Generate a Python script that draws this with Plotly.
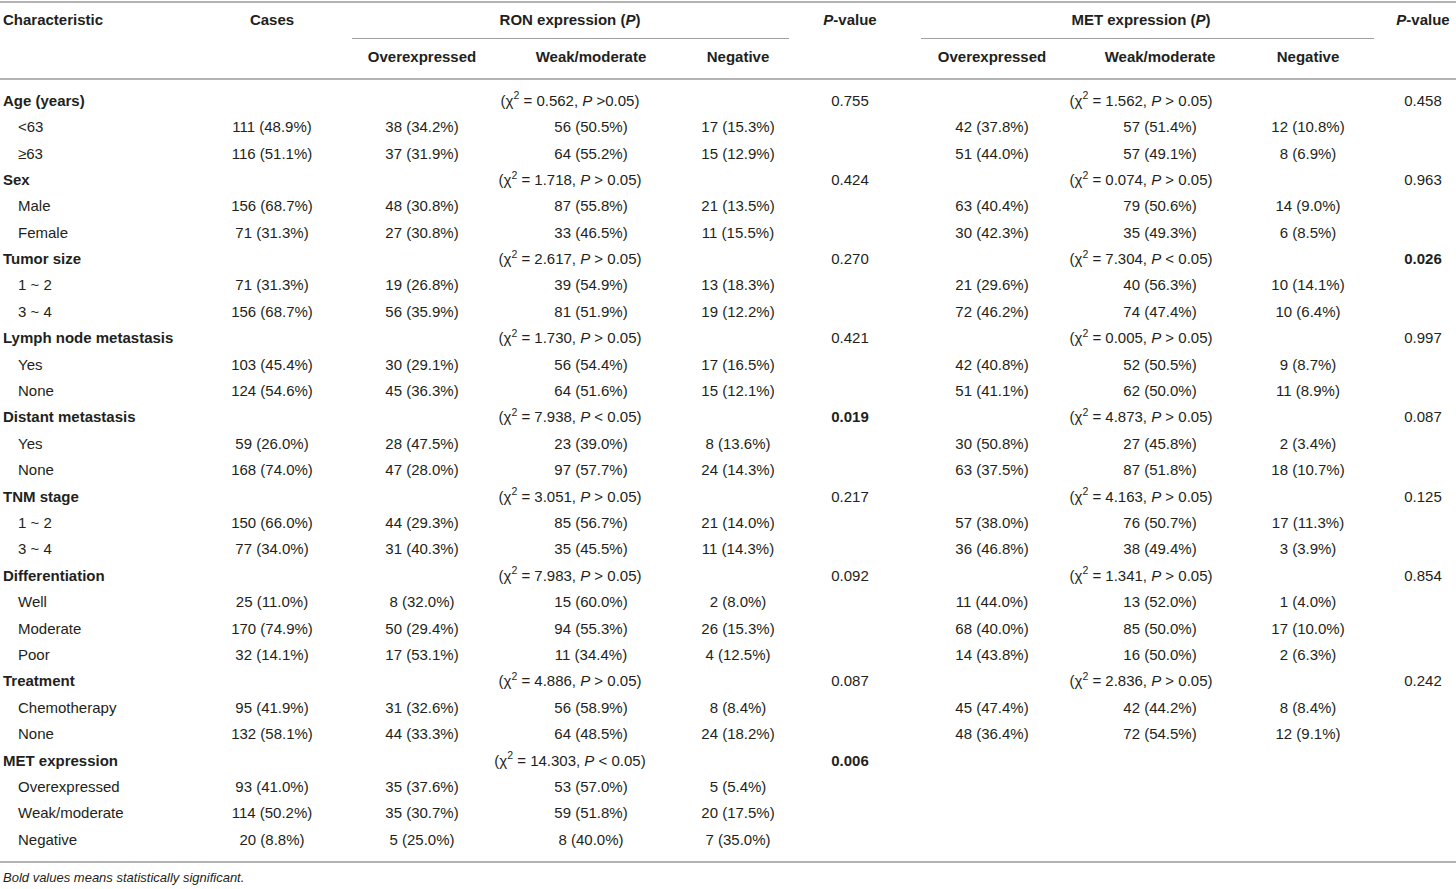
import plotly.graph_objects as go

# ---------------- data ----------------
groups = ["Age (years)", "Sex", "Tumor size", "Lymph node metastasis", "Distant metastasis",
          "TNM stage", "Differentiation", "Treatment", "MET expression"]
subgroups = [["<63", "≥63"], ["Male", "Female"], ["1 ~ 2", "3 ~ 4"], ["Yes", "None"], ["Yes", "None"],
             ["1 ~ 2", "3 ~ 4"], ["Well", "Moderate", "Poor"], ["Chemotherapy", "None"],
             ["Overexpressed", "Weak/moderate", "Negative"]]

ron_chi2 = [0.562, 1.718, 2.617, 1.730, 7.938, 3.051, 7.983, 4.886, 14.303]
ron_compare = [">0.05", "> 0.05", "> 0.05", "> 0.05", "< 0.05", "> 0.05", "> 0.05", "> 0.05", "< 0.05"]
ron_pvalue = [0.755, 0.424, 0.270, 0.421, 0.019, 0.217, 0.092, 0.087, 0.006]
met_chi2 = [1.562, 0.074, 7.304, 0.005, 4.873, 4.163, 1.341, 2.836, None]
met_compare = ["> 0.05", "> 0.05", "< 0.05", "> 0.05", "> 0.05", "> 0.05", "> 0.05", "> 0.05", None]
met_pvalue = [0.458, 0.963, 0.026, 0.997, 0.087, 0.125, 0.854, 0.242, None]

cases_n = [111, 116, 156, 71, 71, 156, 103, 124, 59, 168, 150, 77, 25, 170, 32, 95, 132, 93, 114, 20]
cases_pct = [48.9, 51.1, 68.7, 31.3, 31.3, 68.7, 45.4, 54.6, 26.0, 74.0, 66.0, 34.0, 11.0, 74.9, 14.1,
             41.9, 58.1, 41.0, 50.2, 8.8]
ron_over_n = [38, 37, 48, 27, 19, 56, 30, 45, 28, 47, 44, 31, 8, 50, 17, 31, 44, 35, 35, 5]
ron_over_pct = [34.2, 31.9, 30.8, 30.8, 26.8, 35.9, 29.1, 36.3, 47.5, 28.0, 29.3, 40.3, 32.0, 29.4, 53.1,
                32.6, 33.3, 37.6, 30.7, 25.0]
ron_weak_n = [56, 64, 87, 33, 39, 81, 56, 64, 23, 97, 85, 35, 15, 94, 11, 56, 64, 53, 59, 8]
ron_weak_pct = [50.5, 55.2, 55.8, 46.5, 54.9, 51.9, 54.4, 51.6, 39.0, 57.7, 56.7, 45.5, 60.0, 55.3, 34.4,
                58.9, 48.5, 57.0, 51.8, 40.0]
ron_neg_n = [17, 15, 21, 11, 13, 19, 17, 15, 8, 24, 21, 11, 2, 26, 4, 8, 24, 5, 20, 7]
ron_neg_pct = [15.3, 12.9, 13.5, 15.5, 18.3, 12.2, 16.5, 12.1, 13.6, 14.3, 14.0, 14.3, 8.0, 15.3, 12.5,
               8.4, 18.2, 5.4, 17.5, 35.0]
met_over_n = [42, 51, 63, 30, 21, 72, 42, 51, 30, 63, 57, 36, 11, 68, 14, 45, 48, None, None, None]
met_over_pct = [37.8, 44.0, 40.4, 42.3, 29.6, 46.2, 40.8, 41.1, 50.8, 37.5, 38.0, 46.8, 44.0, 40.0, 43.8,
                47.4, 36.4, None, None, None]
met_weak_n = [57, 57, 79, 35, 40, 74, 52, 62, 27, 87, 76, 38, 13, 85, 16, 42, 72, None, None, None]
met_weak_pct = [51.4, 49.1, 50.6, 49.3, 56.3, 47.4, 50.5, 50.0, 45.8, 51.8, 50.7, 49.4, 52.0, 50.0, 50.0,
                44.2, 54.5, None, None, None]
met_neg_n = [12, 8, 14, 6, 10, 10, 9, 11, 2, 18, 17, 3, 1, 17, 2, 8, 12, None, None, None]
met_neg_pct = [10.8, 6.9, 9.0, 8.5, 14.1, 6.4, 8.7, 8.9, 3.4, 10.7, 11.3, 3.9, 4.0, 10.0, 6.3,
               8.4, 9.1, None, None, None]

footnote = "Bold values means statistically significant."

# ---------------- layout constants ----------------
W, H = 1456, 889
ROW0, DY = 102, 26.39
HDR1, HDR2 = 21, 58
X_LEFT, X_INDENT = 3, 18
X_CASES = 272
X_RON = [422, 591, 738]
X_RON_MID, X_RON_P = 570, 850
X_MET = [992, 1160, 1308]
X_MET_MID, X_MET_P = 1141, 1423
FONT = "Liberation Sans, Arial, sans-serif"
FS = 15
COLOR = "#231f20"

# ---------------- build rows ----------------
def cell(n, p):
    return "" if n is None else f"{n} ({p:.1f}%)"

def chi(v, c):
    return "" if v is None else f"(χ<sup>2</sup> = {v:.3f}, <i>P</i> {c})"

def pv(v):
    if v is None:
        return ""
    s = f"{v:.3f}"
    return f"<b>{s}</b>" if v < 0.05 else s

row_label, row_is_group = [], []
col_cases, col_ron, col_met = [], [[], [], []], [[], [], []]
col_ron_chi, col_ron_p, col_met_chi, col_met_p = [], [], [], []
k = 0
for g, subs in enumerate(subgroups):
    row_label.append(f"<b>{groups[g]}</b>")
    row_is_group.append(True)
    col_cases.append("")
    for j in range(3):
        col_ron[j].append("")
        col_met[j].append("")
    col_ron_chi.append(chi(ron_chi2[g], ron_compare[g]))
    col_ron_p.append(pv(ron_pvalue[g]))
    col_met_chi.append(chi(met_chi2[g], met_compare[g]))
    col_met_p.append(pv(met_pvalue[g]))
    for s in subs:
        row_label.append(s)
        row_is_group.append(False)
        col_cases.append(cell(cases_n[k], cases_pct[k]))
        col_ron[0].append(cell(ron_over_n[k], ron_over_pct[k]))
        col_ron[1].append(cell(ron_weak_n[k], ron_weak_pct[k]))
        col_ron[2].append(cell(ron_neg_n[k], ron_neg_pct[k]))
        col_met[0].append(cell(met_over_n[k], met_over_pct[k]))
        col_met[1].append(cell(met_weak_n[k], met_weak_pct[k]))
        col_met[2].append(cell(met_neg_n[k], met_neg_pct[k]))
        col_ron_chi.append("")
        col_ron_p.append("")
        col_met_chi.append("")
        col_met_p.append("")
        k += 1

n_rows = len(row_label)
ys = [ROW0 + i * DY for i in range(n_rows)]

fig = go.Figure()

def add_text(xs, yv, texts, pos="middle center", size=FS):
    keep = [i for i, t in enumerate(texts) if t]
    fig.add_trace(go.Scatter(
        x=[xs[i] for i in keep], y=[yv[i] for i in keep], text=[texts[i] for i in keep],
        mode="text", textposition=pos,
        textfont=dict(family=FONT, size=size, color=COLOR),
        hoverinfo="skip", showlegend=False, cliponaxis=False))

# label column
add_text([X_LEFT if gflag else X_INDENT for gflag in row_is_group], ys, row_label, "middle right")
# numeric columns
add_text([X_CASES] * n_rows, ys, col_cases)
for j in range(3):
    add_text([X_RON[j]] * n_rows, ys, col_ron[j])
    add_text([X_MET[j]] * n_rows, ys, col_met[j])
add_text([X_RON_MID] * n_rows, ys, col_ron_chi)
add_text([X_RON_P] * n_rows, ys, col_ron_p)
add_text([X_MET_MID] * n_rows, ys, col_met_chi)
add_text([X_MET_P] * n_rows, ys, col_met_p)

# headers
add_text([X_LEFT], [HDR1], ["<b>Characteristic</b>"], "middle right")
add_text([X_CASES, X_RON_MID, X_RON_P, X_MET_MID, X_MET_P], [HDR1] * 5,
         ["<b>Cases</b>", "<b>RON expression (<i>P</i>)</b>", "<b><i>P</i>-value</b>",
          "<b>MET expression (<i>P</i>)</b>", "<b><i>P</i>-value</b>"])
sub_hdr = ["<b>Overexpressed</b>", "<b>Weak/moderate</b>", "<b>Negative</b>"]
add_text(X_RON + X_MET, [HDR2] * 6, sub_hdr + sub_hdr)

# footnote
add_text([X_LEFT], [879], [f"<i>{footnote}</i>"], "middle right", size=13)

# rules
def hline(x0, x1, y, w, c):
    fig.add_shape(type="line", x0=x0, x1=x1, y0=y, y1=y, xref="x", yref="y",
                  line=dict(color=c, width=w))

hline(0, W, 2, 2, "#b3b3b3")
hline(352, 789, 38.5, 1.2, "#a0a0a0")
hline(921, 1374, 38.5, 1.2, "#a0a0a0")
hline(0, W, 79, 2, "#b3b3b3")
hline(0, W, 862, 2, "#b3b3b3")

fig.update_layout(
    width=W, height=H, margin=dict(l=0, r=0, t=0, b=0),
    paper_bgcolor="white", plot_bgcolor="white",
    xaxis=dict(range=[0, W], visible=False, fixedrange=True),
    yaxis=dict(range=[H, 0], visible=False, fixedrange=True),
)

fig.write_html("out.html", config={"displayModeBar": False, "staticPlot": True},
               post_script="document.body.style.margin='0';document.body.style.overflow='hidden';")
